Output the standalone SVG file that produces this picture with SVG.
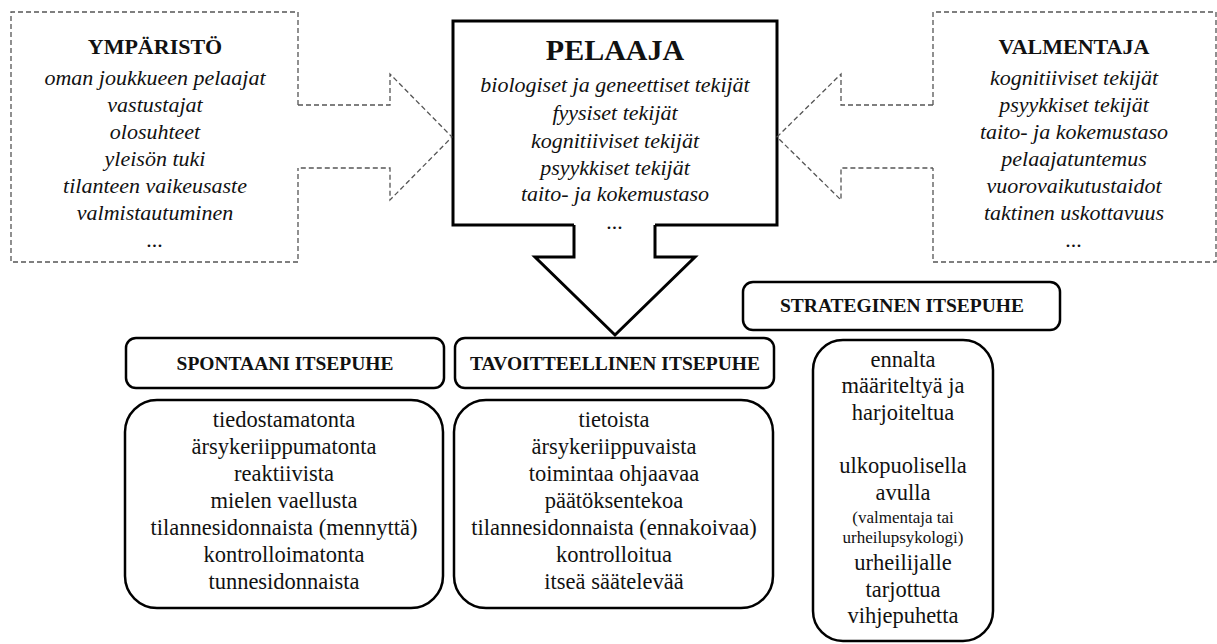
<svg xmlns="http://www.w3.org/2000/svg" width="1217" height="644" viewBox="0 0 1217 644">
<style>
.dash{fill:none;stroke:#555;stroke-width:1.3;stroke-dasharray:5 3}
.solid{fill:none;stroke:#000;stroke-width:3;stroke-linejoin:miter}
.rbox{fill:#fff;stroke:#000;stroke-width:2.5}
</style>
<rect width="1217" height="644" fill="#fff"/>
<g id="ymparisto">
<path class="dash" d="M298,105 V12 H11 V262 H298 V168"/>
<text font-family="Liberation Serif" font-weight="bold" font-size="22" text-anchor="middle" fill="#111" x="155" y="54">YMPÄRISTÖ</text>
<text font-family="Liberation Serif" font-style="italic" font-size="22" text-anchor="middle" fill="#111" x="155" y="85">oman joukkueen pelaajat</text>
<text font-family="Liberation Serif" font-style="italic" font-size="22" text-anchor="middle" fill="#111" x="155" y="112">vastustajat</text>
<text font-family="Liberation Serif" font-style="italic" font-size="22" text-anchor="middle" fill="#111" x="155" y="139">olosuhteet</text>
<text font-family="Liberation Serif" font-style="italic" font-size="22" text-anchor="middle" fill="#111" x="155" y="166">yleisön tuki</text>
<text font-family="Liberation Serif" font-style="italic" font-size="22" text-anchor="middle" fill="#111" x="155" y="193">tilanteen vaikeusaste</text>
<text font-family="Liberation Serif" font-style="italic" font-size="22" text-anchor="middle" fill="#111" x="155" y="220">valmistautuminen</text>
<text font-family="Liberation Serif" font-style="italic" font-size="22" text-anchor="middle" fill="#111" x="155" y="247">...</text>
</g>
<g id="valmentaja">
<path class="dash" d="M933,105 V12 H1216 V262 H933 V168"/>
<text font-family="Liberation Serif" font-weight="bold" font-size="22" text-anchor="middle" fill="#111" x="1074" y="54">VALMENTAJA</text>
<text font-family="Liberation Serif" font-style="italic" font-size="22" text-anchor="middle" fill="#111" x="1074" y="85">kognitiiviset tekijät</text>
<text font-family="Liberation Serif" font-style="italic" font-size="22" text-anchor="middle" fill="#111" x="1074" y="112">psyykkiset tekijät</text>
<text font-family="Liberation Serif" font-style="italic" font-size="22" text-anchor="middle" fill="#111" x="1074" y="139">taito- ja kokemustaso</text>
<text font-family="Liberation Serif" font-style="italic" font-size="22" text-anchor="middle" fill="#111" x="1074" y="166">pelaajatuntemus</text>
<text font-family="Liberation Serif" font-style="italic" font-size="22" text-anchor="middle" fill="#111" x="1074" y="193">vuorovaikutustaidot</text>
<text font-family="Liberation Serif" font-style="italic" font-size="22" text-anchor="middle" fill="#111" x="1074" y="220">taktinen uskottavuus</text>
<text font-family="Liberation Serif" font-style="italic" font-size="22" text-anchor="middle" fill="#111" x="1074" y="247">...</text>
</g>
<g id="pelaaja">
<path class="solid" d="M574,225 H453 V21 H777 V225 H655"/>
<text font-family="Liberation Serif" font-weight="bold" font-size="30" text-anchor="middle" fill="#111" x="615" y="60">PELAAJA</text>
<text font-family="Liberation Serif" font-style="italic" font-size="22" text-anchor="middle" fill="#111" x="615" y="92">biologiset ja geneettiset tekijät</text>
<text font-family="Liberation Serif" font-style="italic" font-size="22" text-anchor="middle" fill="#111" x="615" y="120">fyysiset tekijät</text>
<text font-family="Liberation Serif" font-style="italic" font-size="22" text-anchor="middle" fill="#111" x="615" y="148">kognitiiviset tekijät</text>
<text font-family="Liberation Serif" font-style="italic" font-size="22" text-anchor="middle" fill="#111" x="615" y="175">psyykkiset tekijät</text>
<text font-family="Liberation Serif" font-style="italic" font-size="22" text-anchor="middle" fill="#111" x="615" y="201">taito- ja kokemustaso</text>
<text font-family="Liberation Serif" font-style="italic" font-size="22" text-anchor="middle" fill="#111" x="615" y="229">...</text>
</g>
<g id="connectors">
<path class="dash" d="M298,105 H390 V74 L452,137 L390,200 V168 H298"/>
<path class="dash" d="M933,105 H841 V74 L777,137 L841,200 V168 H933"/>
<path class="solid" d="M574,225 V257 H535 L615,335 L695,257 H655 V225"/>
</g>
<g id="spontaani-otsikko">
<rect class="rbox" x="126" y="338" width="318" height="50" rx="10"/>
<text font-family="Liberation Serif" font-weight="bold" font-size="19.5" text-anchor="middle" fill="#111" x="285" y="370">SPONTAANI ITSEPUHE</text>
</g>
<g id="spontaani">
<rect class="rbox" x="125" y="400" width="318" height="208" rx="32"/>
<text font-family="Liberation Serif" font-size="22.5" text-anchor="middle" fill="#111" x="284" y="427">tiedostamatonta</text>
<text font-family="Liberation Serif" font-size="22.5" text-anchor="middle" fill="#111" x="284" y="454">ärsykeriippumatonta</text>
<text font-family="Liberation Serif" font-size="22.5" text-anchor="middle" fill="#111" x="284" y="481">reaktiivista</text>
<text font-family="Liberation Serif" font-size="22.5" text-anchor="middle" fill="#111" x="284" y="508">mielen vaellusta</text>
<text font-family="Liberation Serif" font-size="22.5" text-anchor="middle" fill="#111" x="284" y="535">tilannesidonnaista (mennyttä)</text>
<text font-family="Liberation Serif" font-size="22.5" text-anchor="middle" fill="#111" x="284" y="562">kontrolloimatonta</text>
<text font-family="Liberation Serif" font-size="22.5" text-anchor="middle" fill="#111" x="284" y="589">tunnesidonnaista</text>
</g>
<g id="tavoitteellinen-otsikko">
<rect class="rbox" x="455" y="338" width="319" height="50" rx="10"/>
<text font-family="Liberation Serif" font-weight="bold" font-size="19.5" text-anchor="middle" fill="#111" x="615" y="370">TAVOITTEELLINEN ITSEPUHE</text>
</g>
<g id="tavoitteellinen">
<rect class="rbox" x="454" y="400" width="319" height="208" rx="32"/>
<text font-family="Liberation Serif" font-size="22.5" text-anchor="middle" fill="#111" x="614" y="427">tietoista</text>
<text font-family="Liberation Serif" font-size="22.5" text-anchor="middle" fill="#111" x="614" y="454">ärsykeriippuvaista</text>
<text font-family="Liberation Serif" font-size="22.5" text-anchor="middle" fill="#111" x="614" y="481">toimintaa ohjaavaa</text>
<text font-family="Liberation Serif" font-size="22.5" text-anchor="middle" fill="#111" x="614" y="508">päätöksentekoa</text>
<text font-family="Liberation Serif" font-size="22.5" text-anchor="middle" fill="#111" x="614" y="535">tilannesidonnaista (ennakoivaa)</text>
<text font-family="Liberation Serif" font-size="22.5" text-anchor="middle" fill="#111" x="614" y="562">kontrolloitua</text>
<text font-family="Liberation Serif" font-size="22.5" text-anchor="middle" fill="#111" x="614" y="589">itseä säätelevää</text>
</g>
<g id="strateginen-otsikko">
<rect class="rbox" x="743" y="282" width="317" height="48" rx="10"/>
<text font-family="Liberation Serif" font-weight="bold" font-size="19.5" text-anchor="middle" fill="#111" x="902" y="312">STRATEGINEN ITSEPUHE</text>
</g>
<g id="strateginen">
<rect class="rbox" x="813" y="340" width="180" height="301" rx="30"/>
<text font-family="Liberation Serif" font-size="22.5" text-anchor="middle" fill="#111" x="903" y="367">ennalta</text>
<text font-family="Liberation Serif" font-size="22.5" text-anchor="middle" fill="#111" x="903" y="393">määriteltyä ja</text>
<text font-family="Liberation Serif" font-size="22.5" text-anchor="middle" fill="#111" x="903" y="420">harjoiteltua</text>
<text font-family="Liberation Serif" font-size="22.5" text-anchor="middle" fill="#111" x="903" y="473">ulkopuolisella</text>
<text font-family="Liberation Serif" font-size="22.5" text-anchor="middle" fill="#111" x="903" y="500">avulla</text>
<text font-family="Liberation Serif" font-size="17" text-anchor="middle" fill="#111" x="903" y="523">(valmentaja tai</text>
<text font-family="Liberation Serif" font-size="17" text-anchor="middle" fill="#111" x="903" y="543">urheilupsykologi)</text>
<text font-family="Liberation Serif" font-size="22.5" text-anchor="middle" fill="#111" x="903" y="570">urheilijalle</text>
<text font-family="Liberation Serif" font-size="22.5" text-anchor="middle" fill="#111" x="903" y="597">tarjottua</text>
<text font-family="Liberation Serif" font-size="22.5" text-anchor="middle" fill="#111" x="903" y="623">vihjepuhetta</text>
</g>
</svg>
